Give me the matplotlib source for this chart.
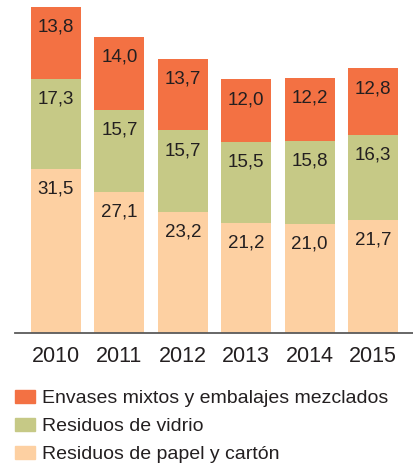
import matplotlib.pyplot as plt
import numpy as np
from matplotlib.patches import Patch

years = ["2010", "2011", "2012", "2013", "2014", "2015"]
papel = [31.5, 27.1, 23.2, 21.2, 21.0, 21.7]
vidrio = [17.3, 15.7, 15.7, 15.5, 15.8, 16.3]
envases = [13.8, 14.0, 13.7, 12.0, 12.2, 12.8]

series_names = ["Residuos de papel y cartón", "Residuos de vidrio",
                "Envases mixtos y embalajes mezclados"]
colors = ["#fdd0a2", "#c6c986", "#f37143"]
text_color = "#231f20"

plt.rcParams['font.family'] = ['Liberation Sans', 'DejaVu Sans']

W, H = 414, 466
fig = plt.figure(figsize=(W / 100, H / 100), dpi=100)
# axes: x from 15px to 413px, y from 333px (bottom) to top of figure
ax = fig.add_axes([15 / W, 1 - 333 / H, (413 - 15) / W, 333 / H])

x = np.arange(len(years))
step = 63.4
ax.set_xlim(-(56 - 15) / step, 5 + (413 - 373) / step)
ax.set_ylim(0, 333 / 5.208)

bottom = np.zeros(len(years))
for vals, name, col in zip([papel, vidrio, envases], series_names, colors):
    vals = np.array(vals)
    ax.bar(x, vals, width=50 / step, bottom=bottom, color=col, label=name, linewidth=0)
    tops = bottom + vals
    for xi, top, v in zip(x, tops, vals):
        ax.annotate(f"{v:.1f}".replace(".", ","), (xi, top), xytext=(0, -14.5),
                    textcoords="offset points", ha="center", va="center",
                    fontsize=13.5, color=text_color)
    bottom = tops

for s in ["top", "left", "right"]:
    ax.spines[s].set_visible(False)
ax.spines["bottom"].set_color("#5a5a5a")
ax.spines["bottom"].set_linewidth(1.3)
ax.set_yticks([])
ax.set_xticks(x, labels=years)
ax.tick_params(axis="x", length=0, pad=9, labelsize=15.5, labelcolor=text_color)

handles = [Patch(color=c) for c in reversed(colors)]
fig.legend(handles, list(reversed(series_names)), loc="upper left",
           bbox_to_anchor=(-3 / W, 1 - 372 / H), frameon=False, fontsize=14,
           handlelength=1.03, handleheight=0.67, handletextpad=0.41,
           labelspacing=0.55, labelcolor=text_color)

fig.savefig("out.png", dpi=100)
